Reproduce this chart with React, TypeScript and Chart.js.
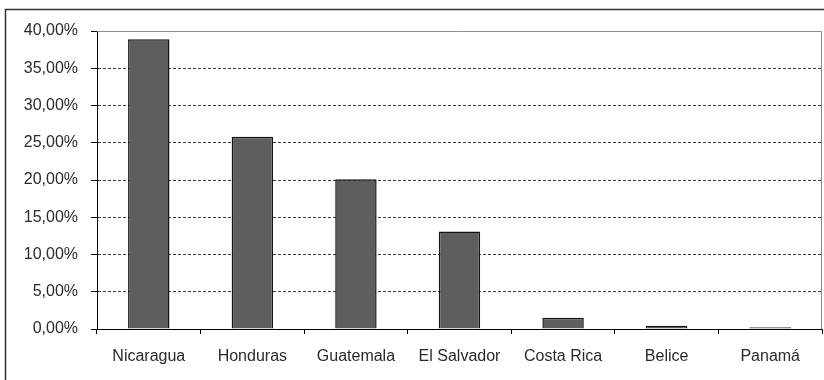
import React, { useEffect, useRef } from "react";
import { Chart, registerables } from "chart.js";

Chart.register(...registerables);

const countries = ["Nicaragua", "Honduras", "Guatemala", "El Salvador", "Costa Rica", "Belice", "Panamá"];
const shares = [38.9, 25.8, 20.1, 13.1, 1.5, 0.45, 0.25];
const yTicksMax = 40;
const yTickStep = 5;

const fmtPercent = (v: number) => v.toFixed(2).replace(".", ",") + "%";

// Outer frame around the whole figure plus the grey top/right plot edges
const framePlugin = {
  id: "frame",
  beforeDraw(chart: any) {
    const ctx = chart.ctx;
    ctx.save();
    ctx.fillStyle = "#ffffff";
    ctx.fillRect(0, 0, chart.width, chart.height);
    ctx.strokeStyle = "#333333";
    ctx.lineWidth = 1.5;
    ctx.beginPath();
    ctx.moveTo(5.5, chart.height + 5);
    ctx.lineTo(5.5, 9.5);
    ctx.lineTo(chart.width + 5, 9.5);
    ctx.stroke();
    ctx.restore();
  },
  afterDraw(chart: any) {
    const { ctx, chartArea } = chart;
    ctx.save();
    ctx.strokeStyle = "#8c8c8c";
    ctx.lineWidth = 1;
    ctx.beginPath();
    ctx.moveTo(chartArea.left, chartArea.top + 0.5);
    ctx.lineTo(chartArea.right - 0.5, chartArea.top + 0.5);
    ctx.lineTo(chartArea.right - 0.5, chartArea.bottom);
    ctx.stroke();
    ctx.restore();
  },
};

export default function App() {
  const canvasRef = useRef<HTMLCanvasElement | null>(null);

  useEffect(() => {
    if (!canvasRef.current) return;
    const chart = new Chart(canvasRef.current, {
      type: "bar",
      data: {
        labels: countries,
        datasets: [
          {
            data: shares,
            backgroundColor: "#5e5e5e",
            borderColor: "#141414",
            borderWidth: 1.5,
            borderSkipped: "bottom",
            categoryPercentage: 1,
            barPercentage: 0.4,
          },
        ],
      },
      options: {
        animation: false,
        responsive: false,
        maintainAspectRatio: false,
        layout: { padding: { top: 31, right: 2, left: 0, bottom: 0 } },
        plugins: {
          legend: { display: false },
          tooltip: { enabled: false },
        },
        scales: {
          x: {
            offset: true,
            grid: {
              offset: true,
              drawOnChartArea: false,
              drawTicks: true,
              tickLength: 5,
              tickColor: "#000000",
            },
            border: { display: true, color: "#000000", width: 1 },
            ticks: {
              color: "#2a2a2a",
              font: { family: "'Liberation Sans', Arial, sans-serif", size: 16 },
              padding: 13,
              maxRotation: 0,
              autoSkip: false,
            },
            afterFit(scale: any) {
              scale.height = 51;
            },
          },
          y: {
            min: 0,
            max: yTicksMax,
            ticks: {
              stepSize: yTickStep,
              color: "#2a2a2a",
              font: { family: "'Liberation Sans', Arial, sans-serif", size: 16 },
              padding: 13,
              callback: (v: any) => fmtPercent(Number(v)),
            },
            grid: {
              color: (c: any) =>
                c.tick && (c.tick.value === yTicksMax || c.tick.value === 0) ? "rgba(0,0,0,0)" : "#3a3a3a",
              tickBorderDash: [1, 0],
              tickColor: "#000000",
              tickLength: 6,
              lineWidth: 1,
            },
            border: { display: true, color: "#000000", width: 1, dash: [3, 2] },
            afterFit(scale: any) {
              scale.width = 97;
            },
          },
        },
      },
      plugins: [framePlugin],
    } as any);
    return () => chart.destroy();
  }, []);

  return (
    <div style={{ position: "fixed", left: 0, top: 0, width: 824, height: 380, background: "#fff" }}>
      <canvas ref={canvasRef} width={824} height={380} style={{ display: "block" }} />
    </div>
  );
}
